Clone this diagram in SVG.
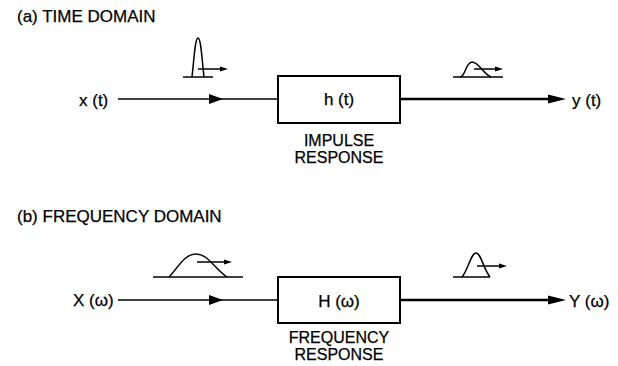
<svg xmlns="http://www.w3.org/2000/svg" width="618" height="366" viewBox="0 0 618 366">
<defs>
<style>
text{font-family:"Liberation Sans",Arial,sans-serif;font-size:17px;fill:#000;stroke:#000;stroke-width:0.25}
.mid{text-anchor:middle}
.sub{font-size:16px}
.box{fill:#fff;stroke:#000;stroke-width:2}
.in{stroke:#000;stroke-width:1.6;fill:none}
.out{stroke:#000;stroke-width:2.6;fill:none}
.thin{stroke:#000;stroke-width:1.5;fill:none}
.head{fill:#000;stroke:none}
</style>
</defs>
<rect width="618" height="366" fill="#fff"/>
<text x="17" y="22">(a) TIME DOMAIN</text>
<text x="17" y="222">(b) FREQUENCY DOMAIN</text>

<g id="connectors">
<line class="in" x1="118" y1="99" x2="278" y2="99"/>
<path class="head" d="M209,94 L223,99 L209,104 Z"/>
<line class="out" x1="400" y1="99" x2="550" y2="99"/>
<path class="head" d="M548,94.5 L566,99 L548,103.5 Z"/>
<line class="in" x1="118" y1="300" x2="278" y2="300"/>
<path class="head" d="M209,295 L223,300 L209,305 Z"/>
<line class="out" x1="400" y1="300" x2="550" y2="300"/>
<path class="head" d="M548,295.5 L566,300 L548,304.5 Z"/>
</g>

<g id="input-a">
<text x="79" y="106">x (t)</text>
<line class="thin" x1="183" y1="77" x2="213" y2="77"/>
<path class="thin" d="M192,77 C194,60 195,38 198,38 C201,38 202,60 204,77"/>
<line class="thin" x1="198" y1="69" x2="222" y2="69"/>
<path class="head" d="M220,66.5 L228,69 L220,71.5 Z"/>
</g>

<g id="h-t">
<rect class="box" x="278" y="76" width="122" height="47"/>
<text class="mid" x="339" y="105">h (t)</text>
<text class="mid sub" x="339" y="146">IMPULSE</text>
<text class="mid sub" x="339" y="163">RESPONSE</text>
</g>

<g id="output-a">
<text x="572" y="106">y (t)</text>
<line class="thin" x1="453" y1="77" x2="503" y2="77"/>
<path class="thin" d="M460,77 C466,76 465,63 472,62 C479,62 482,73 491,77"/>
<line class="thin" x1="474" y1="69" x2="497" y2="69"/>
<path class="head" d="M495,66.5 L503,69 L495,71.5 Z"/>
</g>

<g id="input-b">
<text x="73" y="306">X (ω)</text>
<line class="thin" x1="153" y1="277" x2="243" y2="277"/>
<path class="thin" d="M169,277 C178,268 184,254 196,254 C208,254 214,268 227,277"/>
<line class="thin" x1="197" y1="262" x2="226" y2="262"/>
<path class="head" d="M224,259.5 L232,262 L224,264.5 Z"/>
</g>

<g id="H-w">
<rect class="box" x="278" y="277" width="122" height="46"/>
<text class="mid" x="339" y="307">H (ω)</text>
<text class="mid sub" x="339" y="343">FREQUENCY</text>
<text class="mid sub" x="339" y="360">RESPONSE</text>
</g>

<g id="output-b">
<text x="569" y="307">Y (ω)</text>
<line class="thin" x1="453" y1="277" x2="490" y2="277"/>
<path class="thin" d="M462,277 C468,270 471,253 476,253 C481,253 483,268 490,277"/>
<line class="thin" x1="477" y1="266" x2="501" y2="266"/>
<path class="head" d="M499,263.5 L507,266 L499,268.5 Z"/>
</g>
</svg>
